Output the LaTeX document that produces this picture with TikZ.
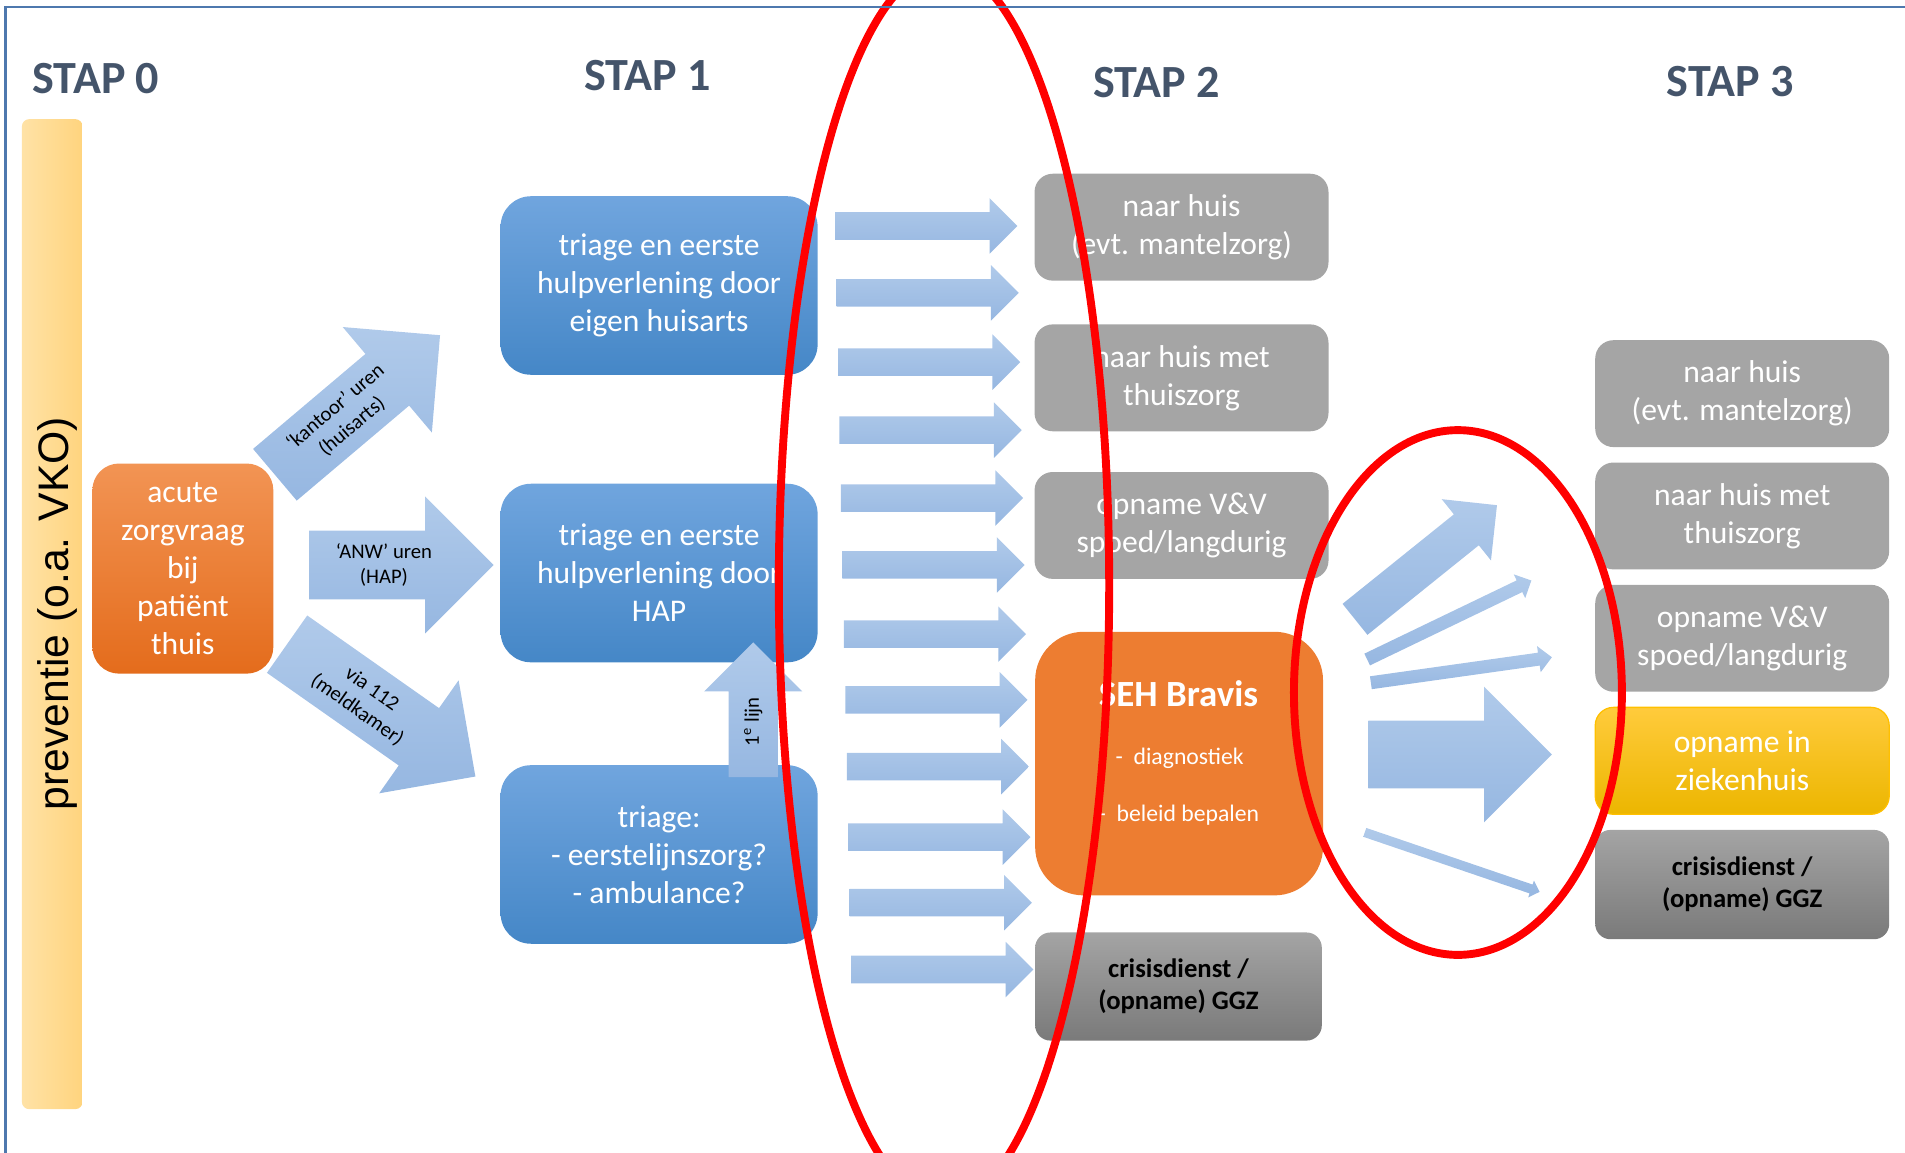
\documentclass[tikz,border=0pt]{standalone}
\usepackage{fontspec}
\setmainfont{Carlito}
\newfontfamily\prevfont{Liberation Sans}
\usetikzlibrary{shapes.arrows,positioning}

\definecolor{stapblue}{HTML}{44546A}
\definecolor{framecol}{HTML}{4E78AE}
\definecolor{arrowtop}{HTML}{B0CAEA}
\definecolor{arrowbot}{HTML}{96B7E1}
\definecolor{bluetop}{HTML}{70A5DE}
\definecolor{bluebot}{HTML}{4587C7}
\definecolor{orangetop}{HTML}{F29454}
\definecolor{orangebot}{HTML}{E46C1C}
\definecolor{sehorange}{HTML}{ED7D31}
\definecolor{boxgray}{HTML}{A5A5A5}
\definecolor{crisistop}{HTML}{A4A4A4}
\definecolor{crisisbot}{HTML}{7A7A7A}
\definecolor{yellowtop}{HTML}{FFCB3C}
\definecolor{yellowbot}{HTML}{ECB600}
\definecolor{yellowedge}{HTML}{FFC000}
\definecolor{prevleft}{HTML}{FFE2A6}
\definecolor{prevright}{HTML}{FFD47E}

\begin{document}
\begin{tikzpicture}[
            x = 0.02cm, % one unit is one pixel of the sketch
            y = -0.02cm, % counted from the top
            node distance = 0.24cm, % gap between the boxes of stap 3
            font = \fontsize{14.8pt}{17.8pt}\selectfont
        ]

        \tikzstyle{stap}=[
            font = \fontsize{21.6pt}{24pt}\selectfont\bfseries,
            text = stapblue
        ]
        \tikzstyle{textbox}=[
            align = center,
            text = white,
            inner sep = 0pt
        ]
        \tikzstyle{bluebox}=[textbox, rounded corners=0.5cm, top color=bluetop, bottom color=bluebot, minimum width=5.22cm, minimum height=2.94cm]
        \tikzstyle{graybox}=[textbox, rounded corners=0.3cm, fill=boxgray, minimum width=4.84cm, minimum height=1.76cm]
        \tikzstyle{crisisbox}=[textbox, rounded corners=0.25cm, top color=crisistop, bottom color=crisisbot, text=black, font=\fontsize{12.5pt}{15pt}\selectfont\bfseries, minimum width=4.84cm, minimum height=1.8cm]
        \tikzstyle{blockarrow}=[single arrow, anchor=tail, inner xsep=0pt, top color=arrowtop, bottom color=arrowbot]
        \tikzstyle{smallarrow}=[blockarrow, inner ysep=0.22cm, minimum height=3cm, minimum width=0.9cm, single arrow head extend=0.23cm]
        \tikzstyle{arrowlabel}=[align=center, inner sep=0pt, font=\fontsize{9.7pt}{12pt}\selectfont]
        \tikzstyle{ring}=[draw=red, line width=3.7pt]

        \useasboundingbox (0,0) rectangle (1568,949);
        \clip (0,0) rectangle (1568,949);

        % stap 0
        \node[stap] (stap0) at (79,65) {STAP 0};
        \node[rounded corners=0.12cm, left color=prevleft, right color=prevright, minimum width=1cm, minimum height=16.3cm] (prevbar) at (43,505.5) {};
        \node[rotate=90, inner sep=0pt, font=\prevfont\fontsize{20pt}{24pt}\selectfont] (prevtext) at (47,505) {preventie (o.a. VKO)};
        \node[textbox, rounded corners=0.44cm, top color=orangetop, bottom color=orangebot, minimum width=2.98cm, minimum height=3.46cm] (acute) at (150.5,468) {acute\\zorgvraag\\bij\\patiënt\\thuis};

        \node[blockarrow, rotate=40.2, inner ysep=0.55cm, minimum height=3.56cm, minimum width=2.26cm, single arrow head extend=0.58cm] (kantoor) at (226,391) {};
        \node[arrowlabel, rotate=40.2] (kantoorlabel) at (283,343) {‘kantoor’ uren\\(huisarts)};
        \node[blockarrow, inner ysep=0.56cm, minimum height=3.04cm, minimum width=2.24cm, single arrow head extend=0.56cm] (anw) at (254,465) {};
        \node[arrowlabel] (anwlabel) at (316,465) {‘ANW’ uren\\(HAP)};
        \node[blockarrow, rotate=-35.1, inner ysep=0.57cm, minimum height=3.79cm, minimum width=2.26cm, single arrow head extend=0.56cm] (meldkamer) at (236,530) {};
        \node[arrowlabel, rotate=-35.1] (meldkamerlabel) at (300,576) {via 112\\(meldkamer)};

        % stap 1
        \node[stap] (stap1) at (533,62) {STAP 1};
        \node[bluebox] (huisarts) at (542.5,235) {triage en eerste\\hulpverlening door\\eigen huisarts};
        \node[bluebox] (hap) [below=1.78cm of huisarts] {triage en eerste\\hulpverlening door\\HAP};
        \node[bluebox] (triage) [below=1.68cm of hap] {triage:\\- eerstelijnszorg?\\- ambulance?};

        \node[blockarrow, rotate=90, inner ysep=0.4cm, minimum height=2.22cm, minimum width=1.6cm, single arrow head extend=0.4cm] (eerstelijn) at (620,640) {};
        \node[arrowlabel, rotate=90] (eerstelijnlabel) at (620,594) {1\textsuperscript{e} lijn};

        \foreach \y [count=\i] in {186,241,298,354,410,465,522,576,631,689,743,798}
            \node[smallarrow] (pijl\i) at ({685.8+1.2*\i},\y) {};

        % stap 2
        \node[stap] (stap2) at (952,68) {STAP 2};
        \node[graybox] (huis2) at (972.5,187) {naar huis\\(evt. mantelzorg)};
        \node[graybox] (thuiszorg2) at (972.5,311) {naar huis met\\thuiszorg};
        \node[graybox] (vv2) at (972.5,432.5) {opname V\&V\\spoed/langdurig};
        \node[textbox, rounded corners=0.8cm, fill=sehorange, minimum width=4.74cm, minimum height=4.34cm] (seh) at (970.5,628.5) {};
        \node[textbox, font=\fontsize{17.3pt}{20pt}\selectfont\bfseries] (sehname) at (970,571) {SEH Bravis};
        \node[textbox, anchor=west, font=\fontsize{11.1pt}{13pt}\selectfont] (diagnostiek) at (918,624) {-\hspace{0.45em}diagnostiek};
        \node[textbox, anchor=west, font=\fontsize{11.1pt}{13pt}\selectfont] (beleid) at (904,671) {-\hspace{0.45em}beleid bepalen};
        \node[crisisbox, minimum width=4.72cm, minimum height=1.78cm] (crisis2) at (970,812) {crisisdienst /\\(opname) GGZ};

        \node[blockarrow, rotate=38.8, inner ysep=0.32cm, minimum height=3cm, minimum width=1.28cm, single arrow head extend=0.32cm] (pijlA) at (1115,510) {};
        \node[blockarrow, rotate=25.7, inner ysep=0.1cm, minimum height=3cm, minimum width=0.42cm, single arrow head extend=0.11cm] (pijlB) at (1125,543) {};
        \node[blockarrow, rotate=8, inner ysep=0.1cm, minimum height=3.01cm, minimum width=0.42cm, single arrow head extend=0.11cm] (pijlC) at (1128,562) {};
        \node[blockarrow, inner ysep=0.55cm, minimum height=3.02cm, minimum width=2.22cm, single arrow head extend=0.56cm] (pijlD) at (1126,621) {};
        \node[blockarrow, rotate=-18.8, inner ysep=0.07cm, minimum height=3.04cm, minimum width=0.28cm, single arrow head extend=0.07cm] (pijlE) at (1123,685) {};

        % stap 3
        \node[stap] (stap3) at (1424,67) {STAP 3};
        \node[graybox] (huis3) at (1434,324) {naar huis\\(evt. mantelzorg)};
        \node[graybox] (thuiszorg3) [below=of huis3] {naar huis met\\thuiszorg};
        \node[graybox] (vv3) [below=of thuiszorg3] {opname V\&V\\spoed/langdurig};
        \node[graybox, top color=yellowtop, bottom color=yellowbot, draw=yellowedge, line width=0.6pt] (ziekenhuis) [below=of vv3] {opname in\\ziekenhuis};
        \node[crisisbox] (crisis3) [below=of ziekenhuis] {crisisdienst /\\(opname) GGZ};

        % red rings
        \draw[ring] (777,482) ellipse [x radius=2.72cm, y radius=10.18cm];
        \draw[ring] (1200,570) ellipse [x radius=2.7cm, y radius=4.32cm];

        \draw[framecol, line width=1.1pt] (4.5,960) -- (4.5,5.5) -- (1580,5.5);

    \end{tikzpicture}
\end{document}
